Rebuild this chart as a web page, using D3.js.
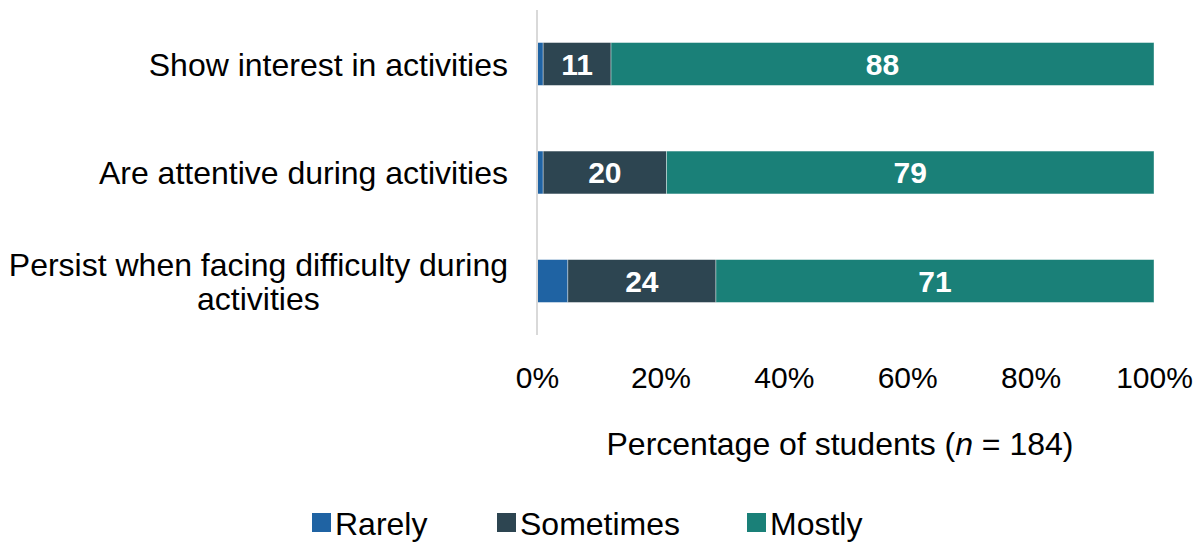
<!DOCTYPE html>
<html>
<head>
<meta charset="utf-8">
<script src="https://cdn.jsdelivr.net/npm/d3@7"></script>
<style>
  body { margin: 0; background: #fff; }
  text { font-family: "Liberation Sans", Arial, sans-serif; }
</style>
</head>
<body>
<div id="chart"></div>
<script>
var categories = ['Show interest in activities', 'Are attentive during activities', 'Persist when facing difficulty during activities'];
var labelLines = [['Show interest in activities'], ['Are attentive during activities'], ['Persist when facing difficulty during', 'activities']];
var seriesNames = ['Rarely', 'Sometimes', 'Mostly'];
var rarely = [1, 1, 5];
var sometimes = [11, 20, 24];
var mostly = [88, 79, 71];
var tickValues = [0, 20, 40, 60, 80, 100];
var colors = ['#1f63a3', '#2d4551', '#1a8078'];

var width = 1203;
var height = 542;
var margin = { top: 10, left: 537, right: 49, bottom: 207 };
var fontSize = '32px';

var svg = d3.select('#chart')
  .append('svg')
  .attr('width', width)
  .attr('height', height);

var plotW = width - margin.left - margin.right;
var plotH = height - margin.top - margin.bottom;

var g = svg.append('g')
  .attr('transform', 'translate(' + margin.left + ',' + margin.top + ')');

var x = d3.scaleLinear().domain([0, 100]).range([0, plotW]);
var y = d3.scaleBand().domain(categories).range([0, plotH]).paddingInner(0.605).paddingOuter(0.3);

var rows = categories.map(function(c, i) {
  return { cat: c, Rarely: rarely[i], Sometimes: sometimes[i], Mostly: mostly[i] };
});
var stacked = d3.stack().keys(seriesNames)(rows);

var layers = g.selectAll('.layer')
  .data(stacked)
  .enter().append('g')
  .attr('class', 'layer')
  .attr('fill', function(d, i) { return colors[i]; });

layers.selectAll('rect')
  .data(function(d) { return d; })
  .enter().append('rect')
  .attr('x', function(d) { return x(d[0]); })
  .attr('y', function(d) { return y(d.data.cat); })
  .attr('width', function(d) { return x(d[1]) - x(d[0]); })
  .attr('height', y.bandwidth())
  .attr('stroke', '#ffffff')
  .attr('stroke-opacity', 0.5)
  .attr('stroke-width', 0.75);

// value labels (only Sometimes and Mostly shown)
layers.filter(function(d) { return d.key !== 'Rarely'; })
  .selectAll('.val')
  .data(function(d) { return d.map(function(p) { return { p: p, v: p.data[d.key] }; }); })
  .enter().append('text')
  .attr('class', 'val')
  .attr('x', function(d) { return (x(d.p[0]) + x(d.p[1])) / 2; })
  .attr('y', function(d) { return y(d.p.data.cat) + y.bandwidth() / 2; })
  .attr('dy', '0.36em')
  .attr('text-anchor', 'middle')
  .attr('fill', '#fff')
  .style('font-size', '30px')
  .style('font-weight', 'bold')
  .text(function(d) { return d.v; });

// vertical axis line
g.append('line')
  .attr('x1', 0).attr('x2', 0)
  .attr('y1', 0).attr('y2', plotH)
  .attr('stroke', '#d9d9d9')
  .attr('stroke-width', 2);

// category labels
categories.forEach(function(c, i) {
  var lines = labelLines[i];
  var cy = y(c) + y.bandwidth() / 2;
  var t = g.append('text')
    .attr('text-anchor', 'end')
    .attr('fill', '#000')
    .style('font-size', fontSize);
  var lh = 34;
  var y0 = cy - (lines.length - 1) * lh / 2;
  var spans = lines.map(function(l, k) {
    return t.append('tspan')
      .attr('x', -29)
      .attr('y', y0 + k * lh)
      .attr('dy', '0.36em')
      .text(l);
  });
  if (lines.length > 1) {
    var widths = spans.map(function(s) { return s.node().getComputedTextLength(); });
    var maxW = d3.max(widths);
    spans.forEach(function(s, k) {
      s.attr('x', -29 - (maxW - widths[k]) / 2);
    });
  }
});

// x axis
var xAxis = d3.axisBottom(x)
  .tickValues(tickValues)
  .tickSize(0)
  .tickPadding(0)
  .tickFormat(function(d) { return d + '%'; });

var ax = g.append('g')
  .attr('transform', 'translate(0,' + (plotH + 42) + ')')
  .call(xAxis);
ax.select('.domain').remove();
ax.selectAll('text')
  .attr('fill', '#000')
  .attr('dy', '0.36em')
  .style('font-size', '30px')
  .style('font-family', '"Liberation Sans", Arial, sans-serif');

// axis title
var title = svg.append('text')
  .attr('x', 840)
  .attr('y', 443)
  .attr('dy', '0.36em')
  .attr('text-anchor', 'middle')
  .style('font-size', fontSize)
  .attr('fill', '#000');
title.append('tspan').text('Percentage of students (');
title.append('tspan').style('font-style', 'italic').text('n');
title.append('tspan').text(' = 184)');

// legend
var legendX = [312, 497, 747];
var legend = svg.selectAll('.legend')
  .data(seriesNames)
  .enter().append('g')
  .attr('class', 'legend')
  .attr('transform', function(d, i) { return 'translate(' + legendX[i] + ',513)'; });

legend.append('rect')
  .attr('width', 19)
  .attr('height', 19)
  .attr('fill', function(d, i) { return colors[i]; });

legend.append('text')
  .attr('x', 23)
  .attr('y', 10)
  .attr('dy', '0.36em')
  .style('font-size', fontSize)
  .attr('fill', '#000')
  .text(function(d) { return d; });
</script>
</body>
</html>
